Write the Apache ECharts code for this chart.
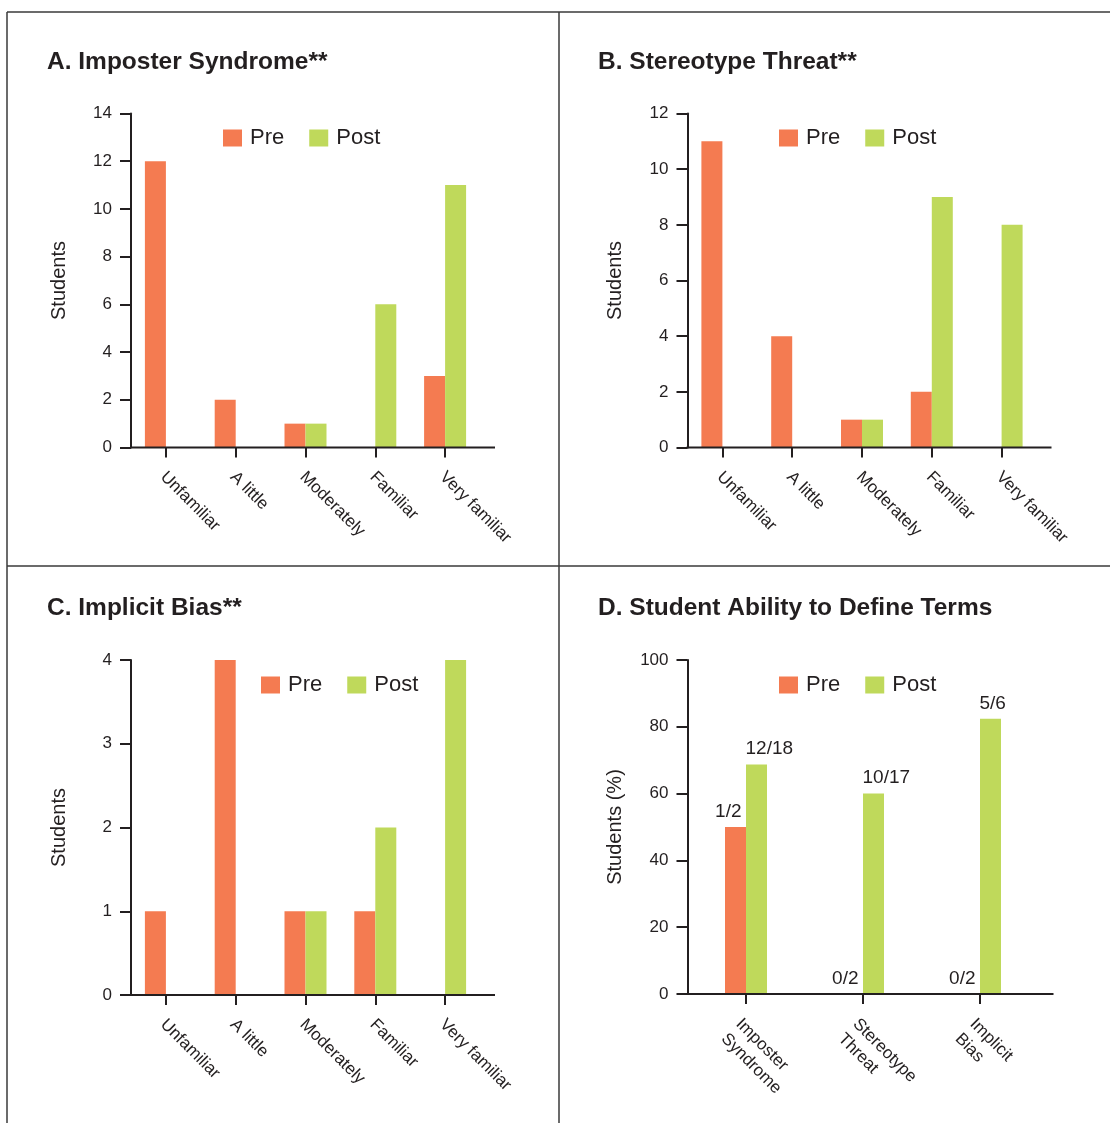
<!DOCTYPE html>
<html><head><meta charset="utf-8">
<script src="https://cdn.jsdelivr.net/npm/echarts@6/dist/echarts.min.js"></script>
<style>html,body{margin:0;padding:0;background:#fff}#c{width:1110px;height:1123px}</style>
</head><body><div id="c"></div>
<script>
// ---- data ----
const familiarity = ['Unfamiliar', 'A little', 'Moderately', 'Familiar', 'Very familiar'];
const imposterPre = [12, 2, 1, 0, 3];
const imposterPost = [0, 0, 1, 6, 11];
const stereotypePre = [11, 4, 1, 2, 0];
const stereotypePost = [0, 0, 1, 9, 8];
const biasPre = [1, 4, 1, 1, 0];
const biasPost = [0, 0, 1, 2, 4];
const terms = ['Imposter\nSyndrome', 'Stereotype\nThreat', 'Implicit\nBias'];
const definePre = [50, 0, 0];
const definePost = [68.7, 60, 82.4];
const definePreLabels = ['1/2', '0/2', '0/2'];
const definePostLabels = ['12/18', '10/17', '5/6'];
const panelTitles = ['A. Imposter Syndrome**', 'B. Stereotype Threat**', 'C. Implicit Bias**', 'D. Student Ability to Define Terms'];
const yNames = ['Students', 'Students', 'Students', 'Students (%)'];
const yMax = [14, 12, 4, 100];
const yInterval = [2, 2, 1, 20];
const seriesNames = ['Pre', 'Post'];

// ---- styling / layout ----
const FONT = '"Liberation Sans", Arial, Helvetica, sans-serif';
const INK = '#231F20';
const PRE = '#F47B51';
const POST = '#BFD95B';
const grids = [
  {left: 131, top: 113.5, width: 349, height: 334},
  {left: 687.5, top: 113.5, width: 349, height: 334},
  {left: 131, top: 660, width: 349, height: 335},
  {left: 687.5, top: 660, width: 351, height: 334}
];
const titlePos = [[47, 50], [598, 50], [47, 596], [598, 596]];
const legendPos = [[223, 127], [779, 127], [261, 674], [779, 674]];
const cats = [familiarity, familiarity, familiarity, terms];
const preData = [imposterPre, stereotypePre, biasPre, definePre];
const postData = [imposterPost, stereotypePost, biasPost, definePost];

const chart = echarts.init(document.getElementById('c'), null, {renderer: 'canvas'});

const option = {
  animation: false,
  backgroundColor: '#fff',
  textStyle: {fontFamily: FONT, color: INK},
  title: panelTitles.map((t, i) => ({
    text: t, left: titlePos[i][0], top: titlePos[i][1], padding: 0,
    textStyle: {fontFamily: FONT, fontSize: 24.5, fontWeight: 'bold', color: INK}
  })),
  legend: legendPos.map((p, i) => ({
    data: seriesNames, left: p[0], top: p[1], padding: 0,
    icon: 'rect', itemWidth: 19, itemHeight: 17, itemGap: 25,
    selectedMode: false,
    textStyle: {fontFamily: FONT, fontSize: 22, color: INK, padding: [0, 0, 0, 3]}
  })),
  grid: grids.map(g => Object.assign({containLabel: false}, g)),
  xAxis: cats.map((c, i) => ({
    type: 'category', gridIndex: i, data: c,
    axisLine: {show: false},
    axisTick: {show: true, alignWithLabel: true, length: 10, lineStyle: {color: INK, width: 2}},
    axisLabel: i === 3 ? {
      rotate: -45, fontSize: 17, color: INK, fontFamily: FONT, lineHeight: 21, interval: 0,
      verticalAlign: 'top', margin: 20
    } : {
      rotate: -45, fontSize: 17, color: INK, fontFamily: FONT, lineHeight: 21, interval: 0,
      verticalAlign: 'middle', margin: 24,
      formatter: v => '{s| }\n' + v,
      rich: {s: {fontSize: 6, lineHeight: 8}}
    }
  })),
  yAxis: yMax.map((m, i) => ({
    type: 'value', gridIndex: i, min: 0, max: m, interval: yInterval[i],
    name: yNames[i], nameLocation: 'middle', nameGap: 62,
    nameTextStyle: {fontSize: 20, color: INK, fontFamily: FONT},
    splitLine: {show: false},
    axisLine: {show: true, lineStyle: {color: INK, width: 2}},
    axisTick: {show: true, length: 11, lineStyle: {color: INK, width: 2}},
    axisLabel: {fontSize: 17, color: INK, margin: 19, fontFamily: FONT}
  })),
  series: []
};

for (let i = 0; i < 4; i++) {
  const isD = i === 3;
  option.series.push({
    name: 'Pre', type: 'bar', xAxisIndex: i, yAxisIndex: i,
    data: preData[i], barWidth: 21, barGap: '0%',
    itemStyle: {color: PRE},
    label: isD ? {
      show: true, position: 'top', distance: 6, align: 'right', offset: [6, 0],
      fontSize: 19, color: INK, fontFamily: FONT,
      formatter: p => definePreLabels[p.dataIndex]
    } : {show: false}
  });
  option.series.push({
    name: 'Post', type: 'bar', xAxisIndex: i, yAxisIndex: i,
    data: postData[i], barWidth: 21, barGap: '0%',
    itemStyle: {color: POST},
    label: isD ? {
      show: true, position: 'top', distance: 6, align: 'left', offset: [-11, 0],
      fontSize: 19, color: INK, fontFamily: FONT,
      formatter: p => definePostLabels[p.dataIndex]
    } : {show: false}
  });
}

chart.setOption(option);

// x-axis baselines (extend a little past the plotting band like the original)
const graphics = [];
grids.forEach((g, i) => {
  const y0 = chart.convertToPixel({yAxisIndex: i}, 0);
  graphics.push({type: 'line', z: 10, shape: {x1: g.left - 1, y1: y0, x2: g.left + g.width + 15, y2: y0},
    style: {stroke: INK, lineWidth: 2}});
});
// panel frame
const frame = {stroke: '#3a3a3a', lineWidth: 1.5};
graphics.push({type: 'line', shape: {x1: 7, y1: 12, x2: 1110, y2: 12}, style: frame});
graphics.push({type: 'line', shape: {x1: 7, y1: 12, x2: 7, y2: 1123}, style: frame});
graphics.push({type: 'line', shape: {x1: 559, y1: 12, x2: 559, y2: 1123}, style: frame});
graphics.push({type: 'line', shape: {x1: 7, y1: 566, x2: 1110, y2: 566}, style: frame});
chart.setOption({graphic: graphics});
</script></body></html>
